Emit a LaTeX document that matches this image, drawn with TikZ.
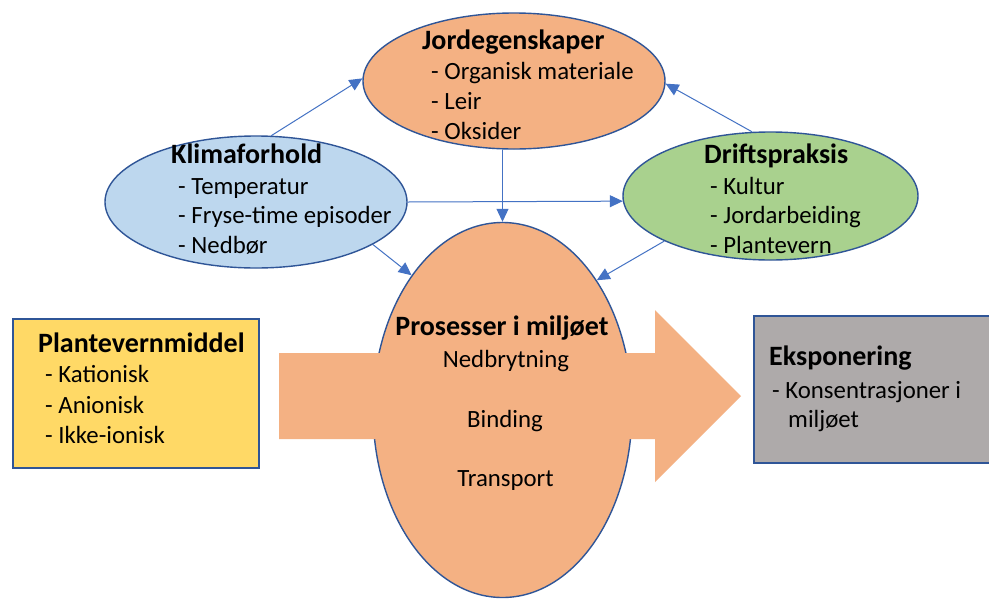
\documentclass[tikz,border=0pt]{standalone}
\usepackage{fontspec}
\setmainfont{Carlito}
\usetikzlibrary{shapes.geometric,arrows.meta}
\definecolor{orng}{HTML}{F4B183}
\definecolor{lblue}{HTML}{BDD7EE}
\definecolor{lgreen}{HTML}{A9D18E}
\definecolor{yell}{HTML}{FFD966}
\definecolor{gry}{HTML}{AEAAAA}
\definecolor{outl}{HTML}{2F5597}
\definecolor{linkc}{HTML}{4472C4}
\begin{document}
\begin{tikzpicture}[x=1pt,y=-1pt,
 ell/.style={ellipse, draw=outl, line width=1.4pt, inner sep=0pt},
 boxn/.style={rectangle, draw=outl, line width=1.8pt, inner sep=0pt, anchor=north west},
 link/.style={draw=linkc, line width=1pt, -{Triangle[length=13pt,width=12pt]}},
 ttl/.style={font=\fontsize{28}{30}\selectfont\bfseries, inner sep=0pt, anchor=base west},
 lst/.style={font=\fontsize{24.8}{30}\selectfont, inner sep=0pt, anchor=base west},
 mid/.style={font=\fontsize{24.8}{30}\selectfont, inner sep=0pt, anchor=base},
]
\useasboundingbox (0,0) rectangle (989,598);
\fill[white] (0,0) rectangle (989,598);

% ellipses
\node[ell, fill=orng, minimum width=302pt, minimum height=136pt] (jord) at (514,81) {};
\node[ell, fill=lblue, minimum width=302pt, minimum height=132pt] (klima) at (256,202) {};
\node[ell, fill=lgreen, minimum width=295pt, minimum height=128pt] (drift) at (770.5,196) {};
\node[ell, fill=orng, minimum width=259pt, minimum height=375pt] (pros) at (502.5,410) {};

% boxes
\node[boxn, fill=yell, minimum width=246pt, minimum height=149pt] (plante) at (12,318) {};
\node[boxn, fill=gry, minimum width=238pt, minimum height=147pt] (ekspo) at (753,315) {};

% big arrow
\fill[orng] (279,353) -- (655,353) -- (655,310) -- (741,396) -- (655,482) -- (655,439) -- (279,439) -- cycle;

% connectors
\draw[link] (klima.77) -- (jord.179);
\draw[link] (drift.106) -- (jord.-1);
\draw[link] (klima.east) -- (drift.182);
\draw[link] (pros.north |- jord.south) -- (pros.north);
\draw[link] (klima.-20) -- (pros.124);
\draw[link] (drift.203) -- (pros.54.5);

% texts
\node[ttl] (jt) at (422,49) {Jordegenskaper};
\node[lst] (j1) at (431,79) {- Organisk materiale};
\node[lst] (j2) at (431,109) {- Leir};
\node[lst] (j3) at (431,139) {- Oksider};

\node[ttl] (kt) at (171,163) {Klimaforhold};
\node[lst] (k1) at (178,194) {- Temperatur};
\node[lst] (k2) at (178,223) {- Fryse-time episoder};
\node[lst] (k3) at (178,253) {- Nedbør};

\node[ttl] (dt) at (704,163) {Driftspraksis};
\node[lst] (d1) at (710,194) {- Kultur};
\node[lst] (d2) at (710,223) {- Jordarbeiding};
\node[lst] (d3) at (710,253) {- Plantevern};

\node[ttl] (pt) at (38,352) {Plantevernmiddel};
\node[lst] (p1) at (45,382) {- Kationisk};
\node[lst] (p2) at (45,413) {- Anionisk};
\node[lst] (p3) at (45,443) {- Ikke-ionisk};

\node[ttl] (et) at (769,365) {Eksponering};
\node[lst] (e1) at (772,398) {- Konsentrasjoner i};
\node[lst] (e2) at (788,427) {miljøet};

\node[ttl, anchor=base] (prt) at (502,335) {Prosesser i miljøet};
\node[mid] (pr1) at (506,367) {Nedbrytning};
\node[mid] (pr2) at (505,427) {Binding};
\node[mid] (pr3) at (505.5,486) {Transport};
\end{tikzpicture}
\end{document}
